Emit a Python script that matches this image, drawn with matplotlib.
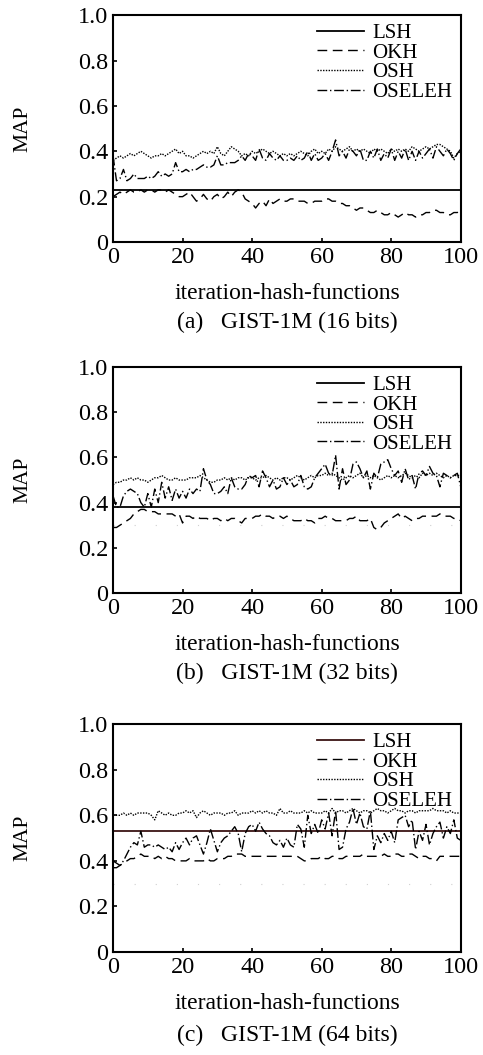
import numpy as np
import matplotlib
matplotlib.use("Agg")
import matplotlib.pyplot as plt

plt.rcParams['font.family'] = ['Liberation Serif', 'DejaVu Serif']

x = np.arange(0, 101)

# ---- (a) GIST-1M 16 bits ----
lsh_16 = 0.23
osh_16 = [0.36, 0.37, 0.38, 0.37, 0.38, 0.39, 0.38, 0.39, 0.40, 0.39,
          0.38, 0.37, 0.38, 0.38, 0.39, 0.38, 0.39, 0.40, 0.41, 0.39,
          0.40, 0.38, 0.38, 0.37, 0.38, 0.39, 0.40, 0.39, 0.40, 0.39,
          0.42, 0.39, 0.38, 0.40, 0.42, 0.41, 0.40, 0.38, 0.39, 0.38,
          0.40, 0.39, 0.40, 0.41, 0.40, 0.39, 0.40, 0.39, 0.38, 0.39,
          0.38, 0.39, 0.38, 0.39, 0.40, 0.39, 0.38, 0.40, 0.41, 0.39,
          0.40, 0.39, 0.41, 0.40, 0.42, 0.41, 0.40, 0.41, 0.42, 0.40,
          0.41, 0.40, 0.41, 0.40, 0.39, 0.41, 0.40, 0.41, 0.40, 0.39,
          0.41, 0.40, 0.41, 0.40, 0.41, 0.40, 0.42, 0.41, 0.40, 0.41,
          0.42, 0.41, 0.42, 0.43, 0.43, 0.42, 0.41, 0.40, 0.37, 0.39,
          0.40]
oseleh_16 = [0.38, 0.27, 0.28, 0.32, 0.27, 0.28, 0.30, 0.28, 0.28, 0.28,
             0.29, 0.28, 0.29, 0.31, 0.29, 0.30, 0.29, 0.30, 0.35, 0.31,
             0.31, 0.32, 0.31, 0.32, 0.32, 0.33, 0.34, 0.33, 0.33, 0.34,
             0.38, 0.34, 0.34, 0.35, 0.35, 0.35, 0.36, 0.38, 0.36, 0.39,
             0.38, 0.36, 0.41, 0.37, 0.36, 0.39, 0.37, 0.36, 0.38, 0.36,
             0.36, 0.37, 0.36, 0.38, 0.36, 0.37, 0.40, 0.36, 0.39, 0.36,
             0.37, 0.39, 0.36, 0.40, 0.45, 0.38, 0.40, 0.37, 0.41, 0.40,
             0.38, 0.41, 0.36, 0.36, 0.40, 0.37, 0.41, 0.36, 0.39, 0.37,
             0.41, 0.36, 0.40, 0.37, 0.41, 0.36, 0.40, 0.36, 0.40, 0.37,
             0.39, 0.41, 0.37, 0.42, 0.40, 0.38, 0.41, 0.39, 0.36, 0.39,
             0.41]
okh_16 = [0.20, 0.21, 0.22, 0.21, 0.22, 0.23, 0.22, 0.22, 0.23, 0.22,
          0.23, 0.23, 0.22, 0.23, 0.23, 0.22, 0.23, 0.22, 0.21, 0.20,
          0.20, 0.21, 0.22, 0.20, 0.18, 0.19, 0.21, 0.19, 0.18, 0.20,
          0.21, 0.19, 0.20, 0.22, 0.20, 0.22, 0.23, 0.22, 0.19, 0.18,
          0.17, 0.15, 0.17, 0.18, 0.16, 0.19, 0.17, 0.18, 0.19, 0.18,
          0.18, 0.19, 0.19, 0.18, 0.18, 0.18, 0.17, 0.17, 0.18, 0.18,
          0.18, 0.19, 0.19, 0.18, 0.18, 0.17, 0.17, 0.16, 0.16, 0.15,
          0.14, 0.15, 0.15, 0.14, 0.13, 0.13, 0.14, 0.13, 0.12, 0.12,
          0.13, 0.12, 0.11, 0.12, 0.13, 0.12, 0.12, 0.11, 0.12, 0.12,
          0.13, 0.13, 0.14, 0.14, 0.13, 0.13, 0.12, 0.12, 0.13, 0.13,
          0.14]

# ---- (b) GIST-1M 32 bits ----
lsh_32 = 0.38
osh_32 = [0.48, 0.49, 0.49, 0.50, 0.50, 0.51, 0.50, 0.51, 0.50, 0.50,
          0.49, 0.50, 0.51, 0.51, 0.52, 0.51, 0.50, 0.50, 0.51, 0.50,
          0.50, 0.50, 0.51, 0.51, 0.51, 0.52, 0.51, 0.50, 0.49, 0.49,
          0.50, 0.50, 0.51, 0.50, 0.51, 0.50, 0.51, 0.51, 0.50, 0.51,
          0.51, 0.50, 0.51, 0.51, 0.52, 0.51, 0.50, 0.51, 0.50, 0.51,
          0.51, 0.50, 0.51, 0.52, 0.51, 0.50, 0.51, 0.52, 0.51, 0.52,
          0.52, 0.53, 0.52, 0.53, 0.52, 0.51, 0.50, 0.51, 0.52, 0.51,
          0.52, 0.53, 0.51, 0.52, 0.51, 0.52, 0.51, 0.50, 0.51, 0.52,
          0.51, 0.52, 0.51, 0.52, 0.53, 0.52, 0.51, 0.52, 0.51, 0.53,
          0.52, 0.53, 0.52, 0.53, 0.52, 0.51, 0.52, 0.51, 0.52, 0.52,
          0.52]
oseleh_32 = [0.43, 0.38, 0.38, 0.43, 0.45, 0.46, 0.45, 0.44, 0.40, 0.38,
             0.44, 0.38, 0.46, 0.40, 0.49, 0.42, 0.47, 0.41, 0.46, 0.42,
             0.45, 0.42, 0.46, 0.44, 0.46, 0.45, 0.55, 0.50, 0.48, 0.44,
             0.44, 0.45, 0.47, 0.44, 0.51, 0.47, 0.46, 0.46, 0.48, 0.52,
             0.51, 0.52, 0.47, 0.54, 0.51, 0.47, 0.50, 0.46, 0.47, 0.51,
             0.48, 0.50, 0.47, 0.48, 0.52, 0.47, 0.46, 0.47, 0.51, 0.53,
             0.55, 0.57, 0.53, 0.52, 0.61, 0.46, 0.55, 0.48, 0.50, 0.57,
             0.58, 0.55, 0.51, 0.54, 0.46, 0.53, 0.51, 0.57, 0.58, 0.59,
             0.55, 0.52, 0.54, 0.49, 0.55, 0.50, 0.52, 0.46, 0.53, 0.54,
             0.52, 0.56, 0.53, 0.52, 0.47, 0.53, 0.52, 0.51, 0.52, 0.53,
             0.47]
okh_32 = [0.29, 0.29, 0.30, 0.31, 0.32, 0.33, 0.35, 0.36, 0.37, 0.37,
          0.36, 0.36, 0.36, 0.35, 0.35, 0.35, 0.35, 0.35, 0.34, 0.35,
          0.31, 0.34, 0.34, 0.33, 0.34, 0.33, 0.33, 0.33, 0.32, 0.33,
          0.33, 0.32, 0.33, 0.32, 0.33, 0.33, 0.32, 0.31, 0.33, 0.33,
          0.33, 0.34, 0.34, 0.35, 0.34, 0.34, 0.33, 0.34, 0.34, 0.33,
          0.34, 0.33, 0.32, 0.32, 0.32, 0.33, 0.32, 0.32, 0.31, 0.33,
          0.33, 0.34, 0.33, 0.33, 0.32, 0.32, 0.32, 0.32, 0.33, 0.33,
          0.34, 0.32, 0.32, 0.32, 0.33, 0.29, 0.28, 0.29, 0.31, 0.32,
          0.33, 0.34, 0.35, 0.33, 0.34, 0.33, 0.32, 0.33, 0.33, 0.34,
          0.34, 0.34, 0.34, 0.34, 0.35, 0.34, 0.34, 0.34, 0.33, 0.33,
          0.32]

# ---- (c) GIST-1M 64 bits ----
lsh_64 = 0.53
osh_64 = [0.60, 0.60, 0.60, 0.61, 0.60, 0.61, 0.60, 0.61, 0.61, 0.61,
          0.61, 0.60, 0.58, 0.62, 0.61, 0.60, 0.61, 0.60, 0.60, 0.61,
          0.61, 0.62, 0.61, 0.62, 0.59, 0.61, 0.62, 0.61, 0.60, 0.61,
          0.61, 0.61, 0.60, 0.61, 0.61, 0.62, 0.60, 0.61, 0.61, 0.61,
          0.62, 0.61, 0.62, 0.61, 0.62, 0.61, 0.61, 0.60, 0.63, 0.61,
          0.61, 0.62, 0.61, 0.61, 0.61, 0.62, 0.61, 0.62, 0.61, 0.61,
          0.61, 0.62, 0.61, 0.63, 0.61, 0.62, 0.62, 0.61, 0.62, 0.63,
          0.62, 0.61, 0.62, 0.62, 0.61, 0.62, 0.63, 0.62, 0.62, 0.61,
          0.62, 0.63, 0.62, 0.62, 0.61, 0.62, 0.62, 0.61, 0.62, 0.62,
          0.62, 0.62, 0.63, 0.62, 0.62, 0.62, 0.61, 0.62, 0.61, 0.61,
          0.61]
oseleh_64 = [0.40, 0.39, 0.38, 0.40, 0.43, 0.46, 0.48, 0.47, 0.53, 0.46,
             0.47, 0.47, 0.46, 0.47, 0.46, 0.45, 0.46, 0.44, 0.48, 0.45,
             0.48, 0.50, 0.47, 0.50, 0.51, 0.47, 0.43, 0.48, 0.54, 0.49,
             0.44, 0.48, 0.50, 0.51, 0.53, 0.55, 0.52, 0.44, 0.52, 0.55,
             0.56, 0.53, 0.57, 0.54, 0.52, 0.51, 0.48, 0.47, 0.49, 0.46,
             0.50, 0.47, 0.46, 0.56, 0.54, 0.46, 0.60, 0.52, 0.56, 0.52,
             0.58, 0.54, 0.61, 0.51, 0.62, 0.45, 0.46, 0.54, 0.57, 0.63,
             0.56, 0.61, 0.55, 0.54, 0.62, 0.45, 0.51, 0.48, 0.52, 0.49,
             0.53, 0.48, 0.58, 0.59, 0.60, 0.55, 0.58, 0.45, 0.53, 0.49,
             0.56, 0.47, 0.52, 0.55, 0.57, 0.50, 0.55, 0.52, 0.58, 0.50,
             0.49]
okh_64 = [0.37, 0.37, 0.38, 0.39, 0.40, 0.41, 0.41, 0.42, 0.43, 0.42,
          0.42, 0.42, 0.41, 0.42, 0.41, 0.42, 0.41, 0.41, 0.40, 0.40,
          0.40, 0.40, 0.41, 0.40, 0.40, 0.40, 0.40, 0.41, 0.40, 0.40,
          0.41, 0.41, 0.41, 0.42, 0.42, 0.43, 0.43, 0.43, 0.42, 0.42,
          0.42, 0.42, 0.42, 0.42, 0.42, 0.42, 0.42, 0.42, 0.42, 0.42,
          0.42, 0.42, 0.42, 0.42, 0.41, 0.40, 0.40, 0.41, 0.41, 0.41,
          0.42, 0.41, 0.41, 0.42, 0.42, 0.41, 0.41, 0.42, 0.42, 0.42,
          0.42, 0.42, 0.43, 0.42, 0.42, 0.42, 0.42, 0.42, 0.43, 0.42,
          0.42, 0.43, 0.43, 0.42, 0.42, 0.43, 0.43, 0.42, 0.41, 0.42,
          0.42, 0.41, 0.41, 0.40, 0.42, 0.42, 0.42, 0.42, 0.42, 0.42,
          0.42]

captions = ["(a)   GIST-1M (16 bits)", "(b)   GIST-1M (32 bits)", "(c)   GIST-1M (64 bits)"]
panels = [(lsh_16, okh_16, osh_16, oseleh_16),
          (lsh_32, okh_32, osh_32, oseleh_32),
          (lsh_64, okh_64, osh_64, oseleh_64)]
lsh_colors = ['black', 'black', '#3a1414']
caption_y = [-0.355, -0.355, -0.367]

fig = plt.figure(figsize=(4.83, 10.55), dpi=100)
# posiciones [left, bottom, width, height] de cada panel
posiciones = [[0.234, 0.7706, 0.720, 0.215],
              [0.234, 0.4379, 0.720, 0.2142],
              [0.234, 0.0976, 0.720, 0.216]]

for i, (lsh, okh, osh, oseleh) in enumerate(panels):
    ax = fig.add_axes(posiciones[i])
    if i > 0:  # restos de grilla gris claro
        ax.axhline(0.3, color='#d0d0d0', lw=0.8, linestyle=(0, (1, 18)), zorder=0)
    ax.plot(x, np.full(len(x), lsh), color=lsh_colors[i], lw=1.3, label='LSH')
    ax.plot(x, okh, color='black', lw=1.0, linestyle=(0, (7, 4)), label='OKH')
    ax.plot(x, osh, color='black', lw=1.0, linestyle=(0, (1, 1)), label='OSH')
    ax.plot(x, oseleh, color='black', lw=1.0, linestyle=(0, (7, 2, 1, 2)), label='OSELEH')
    ax.set_xlim(0, 100)
    ax.set_ylim(0, 1.0)
    ax.set_xticks([0, 20, 40, 60, 80, 100])
    ax.set_yticks([0, 0.2, 0.4, 0.6, 0.8, 1.0])
    ax.set_yticklabels(['0', '0.2', '0.4', '0.6', '0.8', '1.0'])
    ax.tick_params(direction='in', length=3, width=1.2, labelsize=17.5, pad=3.5)
    for s in ax.spines.values():
        s.set_linewidth(1.5)
    ax.set_xlabel('iteration-hash-functions', fontsize=17, labelpad=11)
    ax.set_ylabel('MAP', fontsize=15.5)
    ax.yaxis.set_label_coords(-0.232, 0.5)
    ax.legend(loc='upper right', frameon=False, fontsize=15, handlelength=2.25,
              handletextpad=0.4, labelspacing=0.0, borderaxespad=0.0,
              borderpad=0.4)
    ax.text(0.5, caption_y[i], captions[i], transform=ax.transAxes, ha='center',
            va='center', fontsize=17)

fig.savefig('out.png', dpi=100)
